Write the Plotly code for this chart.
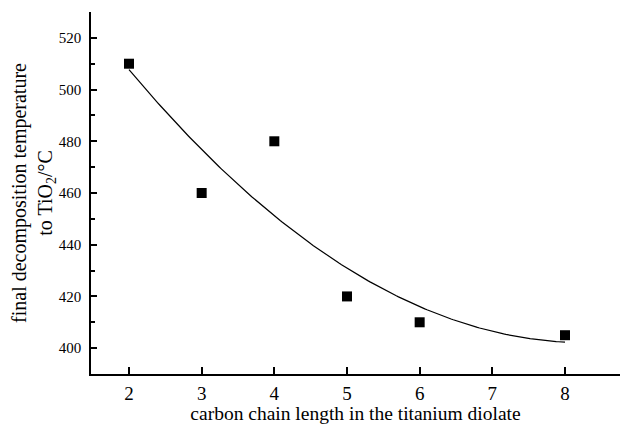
import numpy as np
import plotly.graph_objects as go

chain_length = [2, 3, 4, 5, 6, 8]
decomp_temp = [510, 460, 480, 420, 410, 405]
x_ticks = [2, 3, 4, 5, 6, 7, 8]
y_ticks = [400, 420, 440, 460, 480, 500, 520]

# quadratic fit of the measured points
coef = np.polyfit(chain_length, decomp_temp, 2)
xf = np.linspace(min(chain_length), max(chain_length), 200)
yf = np.polyval(coef, xf)

fig = go.Figure()
fig.add_trace(go.Scatter(x=xf, y=yf, mode="lines",
                         line=dict(color="black", width=1.2), showlegend=False))
fig.add_trace(go.Scatter(x=chain_length, y=decomp_temp, mode="markers",
                         marker=dict(symbol="square", size=10, color="black"),
                         showlegend=False))

font = "Liberation Serif, Times New Roman, serif"
fig.update_layout(
    width=620, height=424,
    margin=dict(l=91, r=0, t=12, b=50),
    paper_bgcolor="white", plot_bgcolor="white",
    font=dict(family=font, color="black"),
    xaxis=dict(range=[1.477, 8.757], tickvals=x_ticks, ticks="inside", ticklen=7,
               tickwidth=1.5, tickcolor="black", showline=True, linecolor="black",
               linewidth=1.5, showgrid=False, zeroline=False,
               tickfont=dict(size=19, family=font), ticklabelstandoff=1,
               title=dict(text="carbon chain length in the titanium diolate",
                          font=dict(size=19.5, family=font), standoff=0)),
    yaxis=dict(range=[390, 530], tickvals=y_ticks, ticks="inside", ticklen=6,
               tickwidth=1.5, tickcolor="black", showline=True, linecolor="black",
               linewidth=1.5, showgrid=False, zeroline=False,
               minor=dict(dtick=10, ticks="inside", ticklen=4, tickwidth=1.5, tickcolor="black"),
               tickfont=dict(size=15, family=font), ticklabelstandoff=5,
               title=dict(text="final decomposition temperature<br>to TiO<sub>2</sub>/°C",
                          font=dict(size=20, family=font), standoff=0)),
)
fig.write_html("out.html")
